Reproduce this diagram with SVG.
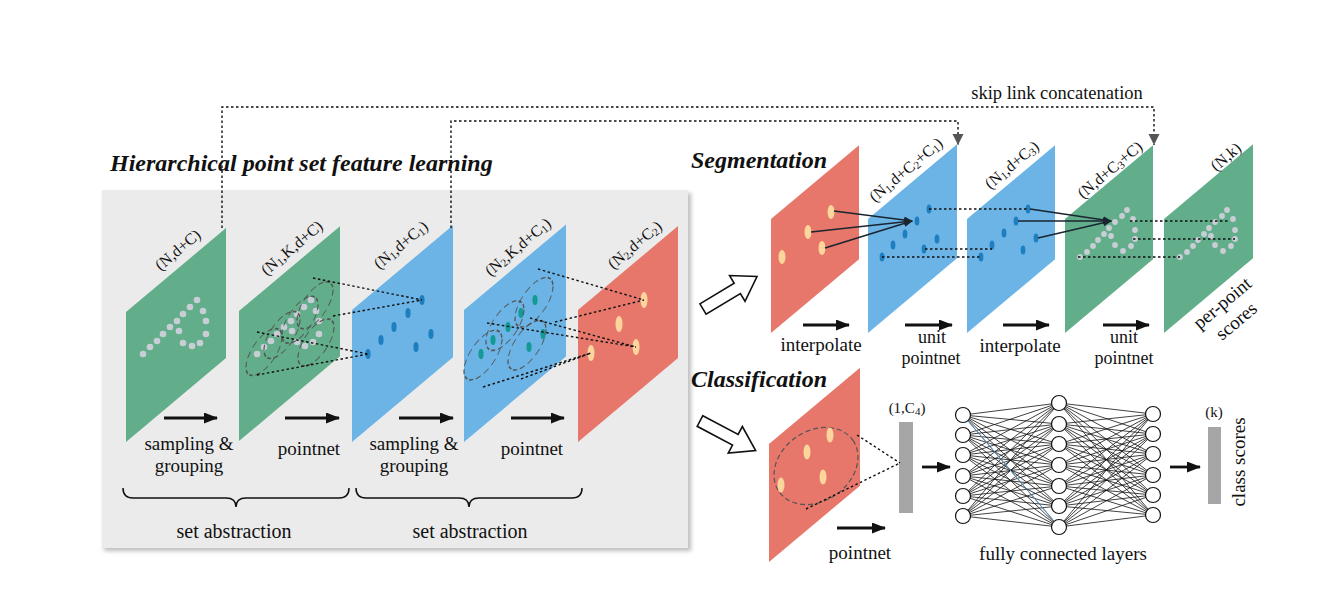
<svg xmlns="http://www.w3.org/2000/svg" width="1342" height="591" viewBox="0 0 1342 591">
<style>
text{font-family:"Liberation Serif","Times New Roman",serif;fill:#111}
.lbl{font-size:19px;text-anchor:middle}
.two{font-size:18px;text-anchor:middle}
.dim{font-size:16px;text-anchor:middle}
.ttl{font-size:24px;font-weight:bold;font-style:italic}
.g{fill:#62ad8a}.b{fill:#6cb4e6}.r{fill:#e6776a}
.gd{fill:#c9ced6}.bd{fill:#1d7fc0}.td{fill:#139a94}.pd{fill:#fcd59c}
.dot{fill:none;stroke:#111;stroke-width:1.4;stroke-dasharray:2.5 2.5}
.dash{fill:none;stroke:#555;stroke-width:1.2;stroke-dasharray:5 3}
.arr{stroke:#111;stroke-width:2.8;marker-end:url(#ah)}
.sol{stroke:#1a2530;stroke-width:1.5;marker-end:url(#sah)}
.nn{fill:none;stroke:#111;stroke-width:0.8;stroke-linejoin:round}
.nc{fill:#fff;stroke:#111;stroke-width:1.2}
.bar{fill:#a6a6a6}
.hol{fill:#fff;stroke:#111;stroke-width:1.6;stroke-linejoin:miter}
</style>
<defs>
<marker id="ah" markerUnits="userSpaceOnUse" markerWidth="15" markerHeight="12" refX="13" refY="5.5" orient="auto"><path d="M0,0 L14,5.5 L0,11 z" fill="#111"/></marker>
<marker id="sah" markerUnits="userSpaceOnUse" markerWidth="10" markerHeight="8" refX="8" refY="3.5" orient="auto"><path d="M0,0 L9,3.5 L0,7 z" fill="#1a2530"/></marker>
<marker id="gah" markerUnits="userSpaceOnUse" markerWidth="12" markerHeight="12" refX="11" refY="5.5" orient="auto"><path d="M0,0 L11,5.5 L0,11 z" fill="#555"/></marker>
<filter id="sh" x="-5%" y="-5%" width="110%" height="110%"><feGaussianBlur stdDeviation="2"/></filter>
</defs>

<!-- background panel -->
<g id="panel">
<rect x="104" y="193" width="587" height="358" fill="#bdbdbd" filter="url(#sh)"/>
<rect x="102" y="190" width="586" height="358" fill="#ebebeb"/>
<text class="ttl" x="110" y="171">Hierarchical point set feature learning</text>
</g>

<!-- left planes -->
<g id="plane1">
<rect class="g" transform="translate(126,312) skewY(-40)" x="0" y="0" width="100" height="130"/>
<g class="gd">
<circle cx="143" cy="354" r="3.3"/><circle cx="150" cy="347" r="3.3"/><circle cx="157" cy="341" r="3.3"/><circle cx="163" cy="334" r="3.3"/><circle cx="170" cy="327" r="3.3"/><circle cx="177" cy="321" r="3.3"/><circle cx="183" cy="314" r="3.3"/><circle cx="190" cy="307" r="3.3"/><circle cx="197" cy="300" r="3.3"/><circle cx="203" cy="311" r="3.3"/><circle cx="206" cy="321" r="3.3"/><circle cx="206" cy="334" r="3.3"/><circle cx="200" cy="343" r="3.3"/><circle cx="192" cy="346" r="3.3"/><circle cx="183" cy="343" r="3.3"/><circle cx="179" cy="331" r="3.3"/>
</g>
<text class="dim" transform="translate(178,250) rotate(-40)" x="0" y="5">(N,d+C)</text>
</g>

<g id="plane2">
<rect class="g" transform="translate(239,311) skewY(-40)" x="0" y="0" width="101" height="130"/>
<g class="gd">
<circle cx="257" cy="354" r="3.3"/><circle cx="264" cy="347" r="3.3"/><circle cx="271" cy="341" r="3.3"/><circle cx="277" cy="334" r="3.3"/><circle cx="284" cy="327" r="3.3"/><circle cx="291" cy="321" r="3.3"/><circle cx="297" cy="314" r="3.3"/><circle cx="304" cy="307" r="3.3"/><circle cx="311" cy="300" r="3.3"/><circle cx="316" cy="311" r="3.3"/><circle cx="319" cy="321" r="3.3"/><circle cx="319" cy="334" r="3.3"/><circle cx="313" cy="342" r="3.3"/><circle cx="305" cy="346" r="3.3"/><circle cx="297" cy="342" r="3.3"/><circle cx="292" cy="331" r="3.3"/>
</g>
<g transform="translate(239,311) skewY(-40)">
<circle class="dash" cx="25" cy="62" r="18"/><circle class="dash" cx="43" cy="60" r="18"/><circle class="dash" cx="61" cy="60" r="18"/><circle class="dash" cx="76" cy="58" r="18"/><circle class="dash" cx="77" cy="96" r="18"/>
</g>
<text class="dim" transform="translate(292,248) rotate(-40)" x="0" y="5">(N<tspan font-size="11" dy="2">1</tspan><tspan dy="-2">,K,d+C)</tspan></text>
</g>

<g id="plane3">
<rect class="b" transform="translate(352,310) skewY(-40)" x="0" y="0" width="101" height="132"/>
<g class="bd">
<ellipse cx="422" cy="300" rx="2.6" ry="5"/><ellipse cx="408" cy="313" rx="2.6" ry="5"/><ellipse cx="394" cy="327" rx="2.6" ry="5"/><ellipse cx="381" cy="340" rx="2.6" ry="5"/><ellipse cx="368" cy="354" rx="2.6" ry="5"/><ellipse cx="416" cy="347" rx="2.6" ry="5"/><ellipse cx="431" cy="334" rx="2.6" ry="5"/>
</g>
<text class="dim" transform="translate(401,245) rotate(-40)" x="0" y="5">(N<tspan font-size="11" dy="2">1</tspan><tspan dy="-2">,d+C</tspan><tspan font-size="11" dy="2">1</tspan><tspan dy="-2">)</tspan></text>
</g>

<g id="plane4">
<rect class="b" transform="translate(464,310) skewY(-40)" x="0" y="0" width="102" height="132"/>
<g class="td">
<ellipse cx="535" cy="300" rx="2.6" ry="5"/><ellipse cx="521" cy="313" rx="2.6" ry="5"/><ellipse cx="508" cy="327" rx="2.6" ry="5"/><ellipse cx="493" cy="340" rx="2.6" ry="5"/><ellipse cx="481" cy="354" rx="2.6" ry="5"/><ellipse cx="529" cy="347" rx="2.6" ry="5"/><ellipse cx="543" cy="334" rx="2.6" ry="5"/>
</g>
<g transform="translate(464,310) skewY(-40)">
<circle class="dash" cx="19" cy="61" r="19"/><circle class="dash" cx="41" cy="50" r="19"/><circle class="dash" cx="70" cy="51" r="19"/><circle class="dash" cx="63" cy="88" r="19"/>
</g>
<text class="dim" transform="translate(518,247) rotate(-40)" x="0" y="5">(N<tspan font-size="11" dy="2">2</tspan><tspan dy="-2">,K,d+C</tspan><tspan font-size="11" dy="2">1</tspan><tspan dy="-2">)</tspan></text>
</g>

<g id="plane5">
<rect class="r" transform="translate(578,310) skewY(-40)" x="0" y="0" width="100" height="132"/>
<g class="pd">
<ellipse cx="644" cy="300" rx="3.5" ry="8"/><ellipse cx="619" cy="324" rx="3.5" ry="8"/><ellipse cx="636" cy="347" rx="3.5" ry="8"/><ellipse cx="591" cy="353" rx="3.5" ry="8"/>
</g>
<text class="dim" transform="translate(635,245) rotate(-40)" x="0" y="5">(N<tspan font-size="11" dy="2">2</tspan><tspan dy="-2">,d+C</tspan><tspan font-size="11" dy="2">2</tspan><tspan dy="-2">)</tspan></text>
</g>

<g id="left-labels">
<text class="lbl" x="189" y="450">sampling &amp;</text>
<text class="lbl" x="189" y="472">grouping</text>
<text class="lbl" x="309" y="455">pointnet</text>
<text class="lbl" x="414" y="450">sampling &amp;</text>
<text class="lbl" x="414" y="472">grouping</text>
<text class="lbl" x="532" y="455">pointnet</text>
<text class="lbl" x="234" y="538" style="font-size:20px">set abstraction</text>
<text class="lbl" x="470" y="538" style="font-size:20px">set abstraction</text>
</g>

<!-- segmentation -->
<g id="seg-title"><text class="ttl" x="691" y="168">Segmentation</text>
<text x="1057" y="99" style="font-size:18.5px;text-anchor:middle">skip link concatenation</text></g>

<g id="seg1">
<rect class="r" transform="translate(771,219) skewY(-40)" x="0" y="0" width="88" height="114"/>
<g class="pd">
<ellipse cx="831" cy="212" rx="3.5" ry="7"/><ellipse cx="808" cy="232" rx="3.5" ry="7"/><ellipse cx="822" cy="248" rx="3.5" ry="7"/><ellipse cx="782" cy="257" rx="3.5" ry="7"/>
</g>
<text class="lbl" x="821" y="351">interpolate</text>
</g>

<g id="seg2">
<rect class="b" transform="translate(868,219) skewY(-40)" x="0" y="0" width="89" height="114"/>
<g class="bd">
<ellipse cx="929" cy="209" rx="2.4" ry="4.5"/><ellipse cx="917" cy="221" rx="2.4" ry="4.5"/><ellipse cx="905" cy="234" rx="2.4" ry="4.5"/><ellipse cx="893" cy="245" rx="2.4" ry="4.5"/><ellipse cx="882" cy="257" rx="2.4" ry="4.5"/><ellipse cx="924" cy="249" rx="2.4" ry="4.5"/><ellipse cx="937" cy="239" rx="2.4" ry="4.5"/>
</g>
<text class="dim" transform="translate(906,170) rotate(-40)" x="0" y="5">(N<tspan font-size="11" dy="2">1</tspan><tspan dy="-2">,d+C</tspan><tspan font-size="11" dy="2">2</tspan><tspan dy="-2">+C</tspan><tspan font-size="11" dy="2">1</tspan><tspan dy="-2">)</tspan></text>
<text class="two" x="932" y="343">unit</text>
<text class="two" x="931" y="364">pointnet</text>
</g>

<g id="seg3">
<rect class="b" transform="translate(967,219) skewY(-40)" x="0" y="0" width="88" height="114"/>
<g class="bd">
<ellipse cx="1028" cy="209" rx="2.4" ry="4.5"/><ellipse cx="1016" cy="221" rx="2.4" ry="4.5"/><ellipse cx="1004" cy="233" rx="2.4" ry="4.5"/><ellipse cx="992" cy="245" rx="2.4" ry="4.5"/><ellipse cx="981" cy="257" rx="2.4" ry="4.5"/><ellipse cx="1023" cy="250" rx="2.4" ry="4.5"/><ellipse cx="1036" cy="238" rx="2.4" ry="4.5"/>
</g>
<text class="dim" transform="translate(1012,165) rotate(-40)" x="0" y="5">(N<tspan font-size="11" dy="2">1</tspan><tspan dy="-2">,d+C</tspan><tspan font-size="11" dy="2">3</tspan><tspan dy="-2">)</tspan></text>
<text class="lbl" x="1020" y="352">interpolate</text>
</g>

<g id="seg4">
<rect class="g" transform="translate(1065,219) skewY(-40)" x="0" y="0" width="88" height="114"/>
<g class="gd">
<circle cx="1080" cy="257" r="2.9"/><circle cx="1087" cy="252" r="2.9"/><circle cx="1093" cy="246" r="2.9"/><circle cx="1098" cy="240" r="2.9"/><circle cx="1104" cy="234" r="2.9"/><circle cx="1109" cy="228" r="2.9"/><circle cx="1115" cy="222" r="2.9"/><circle cx="1122" cy="216" r="2.9"/><circle cx="1127" cy="210" r="2.9"/><circle cx="1133" cy="219" r="2.9"/><circle cx="1135" cy="230" r="2.9"/><circle cx="1135" cy="239" r="2.9"/><circle cx="1131" cy="246" r="2.9"/><circle cx="1123" cy="251" r="2.9"/><circle cx="1115" cy="245" r="2.9"/><circle cx="1111" cy="236" r="2.9"/>
</g>
<text class="dim" transform="translate(1110,170) rotate(-40)" x="0" y="5">(N,d+C<tspan font-size="11" dy="2">3</tspan><tspan dy="-2">+C)</tspan></text>
<text class="two" x="1124" y="343">unit</text>
<text class="two" x="1124" y="364">pointnet</text>
</g>

<g id="seg5">
<rect class="g" transform="translate(1164,219) skewY(-40)" x="0" y="0" width="89" height="114"/>
<g class="gd">
<circle cx="1180" cy="257" r="2.9"/><circle cx="1187" cy="252" r="2.9"/><circle cx="1193" cy="246" r="2.9"/><circle cx="1198" cy="240" r="2.9"/><circle cx="1204" cy="234" r="2.9"/><circle cx="1209" cy="228" r="2.9"/><circle cx="1215" cy="222" r="2.9"/><circle cx="1222" cy="216" r="2.9"/><circle cx="1227" cy="210" r="2.9"/><circle cx="1233" cy="219" r="2.9"/><circle cx="1235" cy="230" r="2.9"/><circle cx="1235" cy="239" r="2.9"/><circle cx="1231" cy="246" r="2.9"/><circle cx="1223" cy="251" r="2.9"/><circle cx="1215" cy="245" r="2.9"/><circle cx="1211" cy="236" r="2.9"/>
</g>
<text class="dim" transform="translate(1226,157) rotate(-40)" x="0" y="5">(N,k)</text>
<text class="lbl" transform="translate(1223,304) rotate(-40)" x="0" y="5">per-point</text>
<text class="lbl" transform="translate(1237,322) rotate(-40)" x="0" y="5">scores</text>
</g>

<!-- classification -->
<g id="cls-title"><text class="ttl" x="691" y="387">Classification</text></g>

<g id="cls-plane">
<rect class="r" transform="translate(769,444) skewY(-40)" x="0" y="0" width="91" height="118"/>
<ellipse class="dash" cx="816" cy="466" rx="45" ry="35" transform="rotate(-35 816 466)"/>
<g class="pd">
<ellipse cx="830" cy="435" rx="3.5" ry="7.5"/><ellipse cx="807" cy="452" rx="3.5" ry="7.5"/><ellipse cx="823" cy="477" rx="3.5" ry="7.5"/><ellipse cx="781" cy="485" rx="3.5" ry="7.5"/>
</g>
<text class="lbl" x="860" y="559">pointnet</text>
</g>

<g id="global-feature">
<rect class="bar" x="899" y="422" width="14" height="91"/>
<text x="907" y="413" style="font-size:15px;text-anchor:middle">(1,C<tspan font-size="11" dy="2">4</tspan><tspan dy="-2">)</tspan></text>
</g>

<g id="class-scores">
<rect class="bar" x="1208" y="427" width="13" height="77"/>
<text x="1214" y="417" style="font-size:15px;text-anchor:middle">(k)</text>
<text class="lbl" transform="translate(1245,462) rotate(-90)" x="0" y="0">class scores</text>
</g>

<!-- connectors -->
<g id="connectors">
<path class="dot" d="M222 228 V107 H1154 V145" style="marker-end:url(#gah)"/>
<path class="dot" d="M451 228 V121 H958 V145" style="marker-end:url(#gah)"/>
<path class="dot" d="M313 278 L422 300 M333 316 L422 300 M257 332 L368 354 M257 375 L368 354"/>
<path class="dot" d="M538 269 L644 300 M555 322 L644 300 M487 323 L636 347 M530 318 L636 347 M483 387 L591 353 M521 379 L591 353"/>
<line class="arr" x1="164" y1="418" x2="217" y2="418"/>
<line class="arr" x1="285" y1="418" x2="339" y2="418"/>
<line class="arr" x1="399" y1="418" x2="453" y2="418"/>
<line class="arr" x1="511" y1="418" x2="564" y2="418"/>
<path fill="none" stroke="#111" stroke-width="1.5" d="M123 488 Q123 498 133 498 L226 498 Q236 498 236 507 Q236 498 246 498 L339 498 Q349 498 349 488"/>
<path fill="none" stroke="#111" stroke-width="1.5" d="M356 488 Q356 498 366 498 L459 498 Q469 498 469 507 Q469 498 479 498 L572 498 Q582 498 582 488"/>
<polygon class="hol" transform="translate(703,309) rotate(-31)" points="0,-6 40,-6 40,-15 63,0 40,15 40,6 0,6"/>
<polygon class="hol" transform="translate(700,421) rotate(28)" points="0,-6 40,-6 40,-15 63,0 40,15 40,6 0,6"/>
<line class="sol" x1="834" y1="211" x2="912" y2="221"/>
<line class="sol" x1="811" y1="232" x2="912" y2="221"/>
<line class="sol" x1="825" y1="248" x2="912" y2="221"/>
<path class="dot" d="M929 209 H1028 M925 249 H992 M882 257 H981"/>
<line class="sol" x1="1030" y1="209" x2="1111" y2="221"/>
<line class="sol" x1="1018" y1="221" x2="1111" y2="221"/>
<line class="sol" x1="1038" y1="238" x2="1111" y2="221"/>
<path class="dot" d="M1130 221 H1230 M1133 239 H1235 M1078 257 H1180"/>
<line class="arr" x1="803" y1="325" x2="849" y2="325"/>
<line class="arr" x1="905" y1="325" x2="952" y2="325"/>
<line class="arr" x1="1003" y1="325" x2="1049" y2="325"/>
<line class="arr" x1="1103" y1="325" x2="1149" y2="325"/>
<path class="dot" d="M857 435 L900 463 M806 509 L900 463"/>
<line class="arr" x1="837" y1="528" x2="885" y2="528"/>
<line class="arr" x1="922" y1="467" x2="950" y2="467"/>
<line class="arr" x1="1170" y1="467" x2="1200" y2="467"/>
<path class="nn" d="M963 415L1059 403L963 435M963 455L1059 403L963 476M963 496L1059 403L963 516M1153 414L1059 403L1153 434M1153 454L1059 403L1153 475M1153 495L1059 403L1153 515"/>
<path class="nn" d="M963 415L1059 424L963 435M963 455L1059 424L963 476M963 496L1059 424L963 516M1153 414L1059 424L1153 434M1153 454L1059 424L1153 475M1153 495L1059 424L1153 515"/>
<path class="nn" d="M963 415L1059 444L963 435M963 455L1059 444L963 476M963 496L1059 444L963 516M1153 414L1059 444L1153 434M1153 454L1059 444L1153 475M1153 495L1059 444L1153 515"/>
<path class="nn" d="M963 415L1059 465L963 435M963 455L1059 465L963 476M963 496L1059 465L963 516M1153 414L1059 465L1153 434M1153 454L1059 465L1153 475M1153 495L1059 465L1153 515"/>
<path class="nn" d="M963 415L1059 486L963 435M963 455L1059 486L963 476M963 496L1059 486L963 516M1153 414L1059 486L1153 434M1153 454L1059 486L1153 475M1153 495L1059 486L1153 515"/>
<path class="nn" d="M963 415L1059 506L963 435M963 455L1059 506L963 476M963 496L1059 506L963 516M1153 414L1059 506L1153 434M1153 454L1059 506L1153 475M1153 495L1059 506L1153 515"/>
<path class="nn" d="M963 415L1059 527L963 435M963 455L1059 527L963 476M963 496L1059 527L963 516M1153 414L1059 527L1153 434M1153 454L1059 527L1153 475M1153 495L1059 527L1153 515"/>
<line x1="963" y1="415" x2="1059" y2="527" stroke="#5a9fd4" stroke-width="0.9"/>
</g>

<g id="fc-layers">
<g class="nc">
<circle cx="963" cy="415" r="7.5"/><circle cx="963" cy="435" r="7.5"/><circle cx="963" cy="455" r="7.5"/><circle cx="963" cy="476" r="7.5"/><circle cx="963" cy="496" r="7.5"/><circle cx="963" cy="516" r="7.5"/>
<circle cx="1059" cy="403" r="7.5"/><circle cx="1059" cy="424" r="7.5"/><circle cx="1059" cy="444" r="7.5"/><circle cx="1059" cy="465" r="7.5"/><circle cx="1059" cy="486" r="7.5"/><circle cx="1059" cy="506" r="7.5"/><circle cx="1059" cy="527" r="7.5"/>
<circle cx="1153" cy="414" r="7.5"/><circle cx="1153" cy="434" r="7.5"/><circle cx="1153" cy="454" r="7.5"/><circle cx="1153" cy="475" r="7.5"/><circle cx="1153" cy="495" r="7.5"/><circle cx="1153" cy="515" r="7.5"/>
</g>
<text class="lbl" x="1063" y="560">fully connected layers</text>
</g>
</svg>
